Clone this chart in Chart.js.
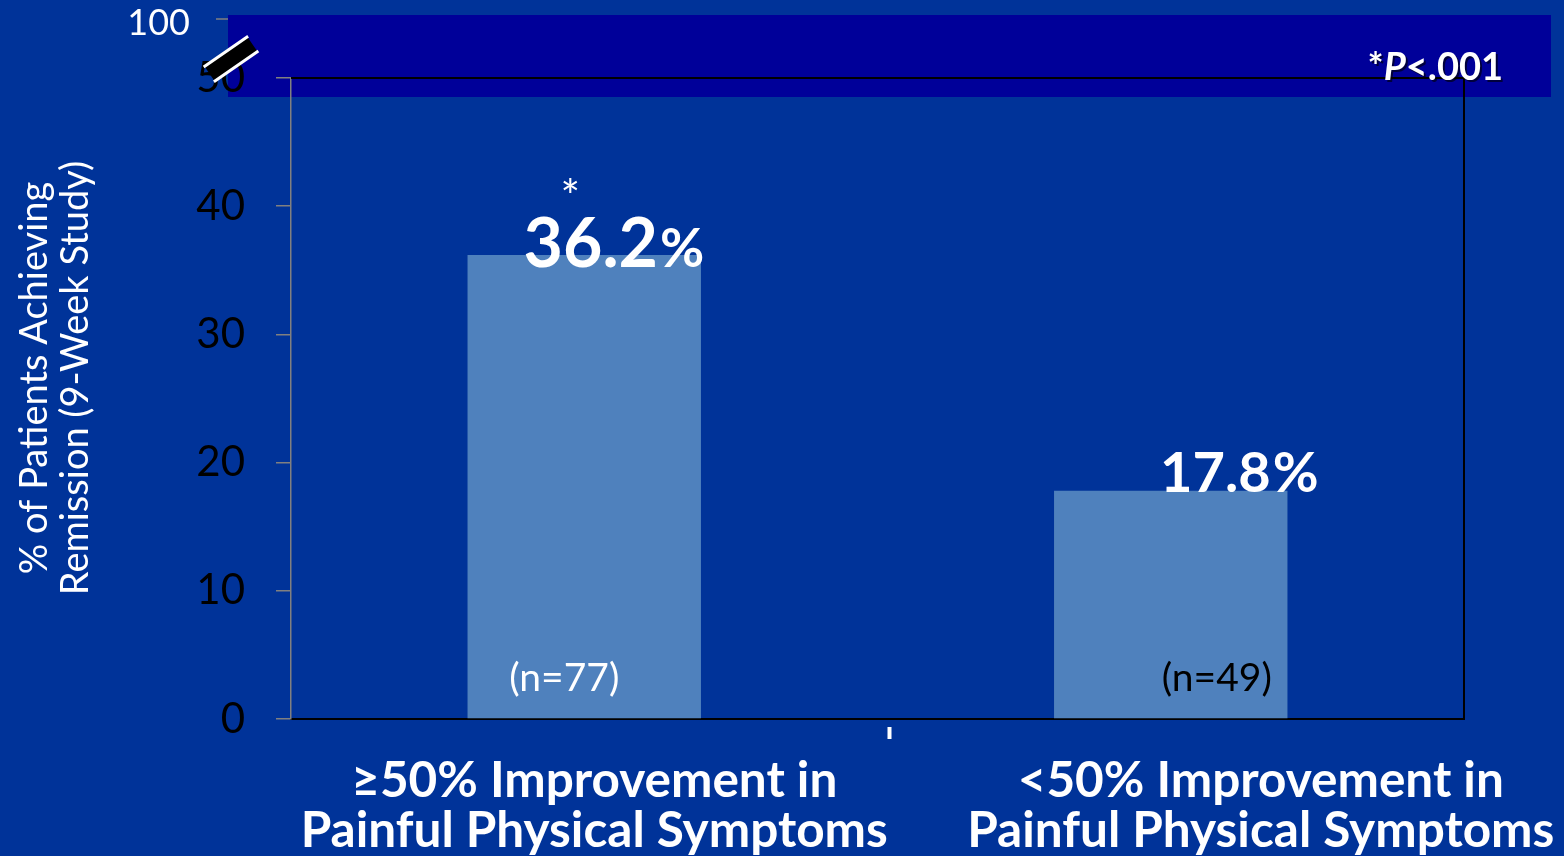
<!DOCTYPE html>
<html>
<head>
<meta charset="utf-8">
<script src="https://cdn.jsdelivr.net/npm/chart.js@4.4.1/dist/chart.umd.min.js"></script>
<style>
  html, body { margin: 0; padding: 0; background: #003399; }
  canvas { display: block; }
</style>
</head>
<body>
<canvas id="remission_chart" width="1564" height="856"></canvas>
<script>
// Remission rates by degree of improvement in painful physical symptoms
const categories = [
    ['\u226550% Improvement in', 'Painful Physical Symptoms'],
    ['<50% Improvement in', 'Painful Physical Symptoms']
];
const remissionRates = [36.2, 17.8];
const sampleSizes = ['(n=77)', '(n=49)'];
const significant = [true, false];
const yTicks = [0, 10, 20, 30, 40, 50];
const brokenAxisTop = '100';
const yTitle = ['% of Patients Achieving', 'Remission (9-Week Study)'];

const FONT = 'Lato, "Open Sans", sans-serif';

// per-bar label tweaks (offsets in px)
const valueLabelStyle = [
    { dx: 56, dy: 12, size: 68, pctSize: 54 },
    { dx: 106, dy: 1, size: 56, pctSize: 56 }
];
const sampleLabelStyle = [
    { dx: -20, color: '#ffffff' },
    { dx: 46, color: '#000000' }
];
const categoryShift = [10, 90];

const slideDecor = {
    id: 'slideDecor',
    beforeDraw(chart) {
        const ctx = chart.ctx;
        ctx.save();
        ctx.fillStyle = '#003399';
        ctx.fillRect(0, 0, chart.width, chart.height);
        // dark band behind the top of the axis
        ctx.fillStyle = '#000099';
        ctx.fillRect(228, 15, 1323, 82);
        ctx.restore();
    },
    afterDraw(chart) {
        const ctx = chart.ctx;
        const area = chart.chartArea;
        const xScale = chart.scales.x;
        const meta = chart.getDatasetMeta(0);
        ctx.save();

        // top and right frame
        ctx.strokeStyle = '#000000';
        ctx.lineWidth = 2;
        ctx.beginPath();
        ctx.moveTo(area.left, area.top);
        ctx.lineTo(area.right, area.top);
        ctx.lineTo(area.right, area.bottom);
        ctx.stroke();

        // "100" above the axis break
        ctx.strokeStyle = '#808080';
        ctx.lineWidth = 1.5;
        ctx.beginPath();
        ctx.moveTo(216, 19);
        ctx.lineTo(228, 19);
        ctx.stroke();
        ctx.fillStyle = '#ffffff';
        ctx.font = '36px ' + FONT;
        ctx.textAlign = 'right';
        ctx.textBaseline = 'middle';
        ctx.fillText(brokenAxisTop, 190, 23);

        // axis break mark
        ctx.save();
        ctx.translate(231, 59);
        ctx.rotate(-34.6 * Math.PI / 180);
        ctx.fillStyle = '#000000';
        ctx.fillRect(-26, -10, 52, 20);
        ctx.strokeStyle = '#ffffff';
        ctx.lineWidth = 3;
        ctx.beginPath();
        ctx.moveTo(-27, -9);
        ctx.lineTo(27, -9);
        ctx.moveTo(-27, 9);
        ctx.lineTo(27, 9);
        ctx.stroke();
        ctx.restore();

        // y axis title, two rotated lines
        ctx.save();
        ctx.translate(55, 378);
        ctx.rotate(-Math.PI / 2);
        ctx.fillStyle = '#ffffff';
        ctx.font = '38px ' + FONT;
        ctx.textAlign = 'center';
        ctx.textBaseline = 'middle';
        ctx.fillText(yTitle[0], 0, -20);
        ctx.fillText(yTitle[1], 0, 21);
        ctx.restore();

        // value and sample size labels on the bars
        meta.data.forEach((bar, i) => {
            const st = valueLabelStyle[i];
            const left = bar.x - bar.width / 2;
            const num = remissionRates[i].toFixed(1);
            ctx.fillStyle = '#ffffff';
            ctx.textAlign = 'left';
            ctx.textBaseline = 'alphabetic';
            ctx.font = 'bold ' + st.size + 'px ' + FONT;
            ctx.fillText(num, left + st.dx, bar.y + st.dy);
            const w = ctx.measureText(num).width;
            ctx.font = 'bold ' + st.pctSize + 'px ' + FONT;
            ctx.fillText('%', left + st.dx + w + 2, bar.y + st.dy);

            if (significant[i]) {
                ctx.font = '46px ' + FONT;
                ctx.textAlign = 'center';
                ctx.fillText('*', bar.x - 14, bar.y - 42);
            }

            const ns = sampleLabelStyle[i];
            ctx.fillStyle = ns.color;
            ctx.font = '39px ' + FONT;
            ctx.textAlign = 'center';
            ctx.fillText(sampleSizes[i], bar.x + ns.dx, 691);
        });

        // category labels under the axis
        ctx.fillStyle = '#ffffff';
        ctx.font = 'bold 49.5px ' + FONT;
        ctx.textAlign = 'center';
        ctx.textBaseline = 'alphabetic';
        categories.forEach((lines, i) => {
            const cx = xScale.getPixelForValue(i) + categoryShift[i];
            lines.forEach((line, j) => {
                ctx.fillText(line, cx, area.bottom + 78 + j * 50);
            });
        });

        // divider tick between the two groups
        const mid = (xScale.getPixelForValue(0) + xScale.getPixelForValue(1)) / 2;
        ctx.fillStyle = '#ffffff';
        ctx.fillRect(mid + 10, area.bottom + 8, 4, 12);

        // significance note
        ctx.textBaseline = 'alphabetic';
        ctx.textAlign = 'left';
        ctx.shadowColor = 'rgba(0,0,0,0.6)';
        ctx.shadowOffsetX = 2;
        ctx.shadowOffsetY = 2;
        const parts = [
            { t: '*', f: 'bold 38px ' + FONT },
            { t: 'P', f: 'italic bold 38px ' + FONT },
            { t: '<.001', f: 'bold 38px ' + FONT }
        ];
        let total = 0;
        parts.forEach(p => { ctx.font = p.f; p.w = ctx.measureText(p.t).width; total += p.w; });
        let x = 1503 - total;
        ctx.fillStyle = '#ffffff';
        parts.forEach(p => { ctx.font = p.f; ctx.fillText(p.t, x, 80); x += p.w; });

        ctx.restore();
    }
};

new Chart(document.getElementById('remission_chart'), {
    type: 'bar',
    data: {
        labels: categories,
        datasets: [{
            data: remissionRates,
            backgroundColor: '#4f81bd',
            borderWidth: 0,
            barPercentage: 0.398,
            categoryPercentage: 1.0
        }]
    },
    options: {
        responsive: false,
        animation: false,
        events: [],
        layout: {
            padding: { left: 0, top: 78, right: 100, bottom: 0 }
        },
        plugins: {
            legend: { display: false },
            tooltip: { enabled: false }
        },
        scales: {
            x: {
                ticks: { display: false },
                grid: { display: false },
                border: { display: true, color: '#000000', width: 2 },
                afterFit(scale) { scale.height = 137; }
            },
            y: {
                min: 0,
                max: 50,
                afterBuildTicks(scale) {
                    scale.ticks = yTicks.map(v => ({ value: v }));
                },
                ticks: {
                    color: '#000000',
                    padding: 31,
                    font: { family: FONT, size: 42 }
                },
                grid: {
                    drawOnChartArea: false,
                    color: '#808080',
                    tickLength: 15,
                    lineWidth: 1.5
                },
                border: { display: true, color: '#808080', width: 1.5 },
                afterFit(scale) { scale.width = 291; }
            }
        }
    },
    plugins: [slideDecor]
});
</script>
</body>
</html>
